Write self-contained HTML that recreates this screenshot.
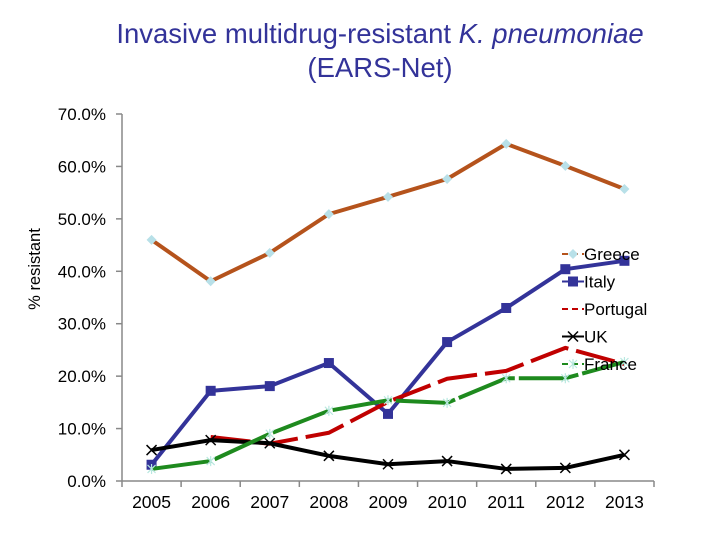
<!DOCTYPE html>
<html><head><meta charset="utf-8"><style>
body{margin:0;background:#fff;font-family:"Liberation Sans",Arial,sans-serif}
svg text{font-family:"Liberation Sans",Arial,sans-serif}
</style></head><body>
<svg id="chart" width="720" height="540" viewBox="0 0 720 540">
<text x="380" y="43" font-size="27.5" text-anchor="middle" fill="#333399">Invasive multidrug-resistant <tspan font-style="italic">K. pneumoniae</tspan></text>
<text x="380" y="77" font-size="27.5" text-anchor="middle" fill="#333399">(EARS-Net)</text>
<text transform="translate(40,269) rotate(-90)" font-size="16.5" text-anchor="middle">% resistant</text>
<g id="axes"></g><g id="series"></g><g id="legend"></g>
</svg>
<script>
const years=['2005','2006','2007','2008','2009','2010','2011','2012','2013'];
const yTicks=[0,10,20,30,40,50,60,70];
const greece=[46.0,38.1,43.5,50.9,54.2,57.6,64.3,60.1,55.7];
const italy=[3.1,17.2,18.1,22.5,12.8,26.5,33.0,40.4,42.0];
const portugal=[null,8.4,7.1,9.2,15.1,19.5,21.0,25.4,22.3];
const uk=[5.9,7.8,7.2,4.8,3.2,3.8,2.3,2.5,5.0];
const france=[2.3,3.8,9.0,13.4,15.4,14.9,19.6,19.6,22.7];
const seriesNames=['Greece','Italy','Portugal','UK','France'];
const NS='http://www.w3.org/2000/svg';
const x0=122,x1=654,y0=481,y1=114;
const step=(x1-x0)/years.length;
function xs(i){return x0+step*(i+0.5);}
function ys(v){return y0-(v/70)*(y0-y1);}
function mk(tag,attrs,parent){const e=document.createElementNS(NS,tag);for(const k in attrs)e.setAttribute(k,attrs[k]);parent.appendChild(e);return e;}
const ax=document.getElementById('axes');
let a=mk('line',{x1:x0,y1:y1,x2:x0,y2:y0,stroke:'#888','stroke-width':1.5},ax);

a=mk('line',{x1:x0,y1:y0,x2:x1,y2:y0,stroke:'#888','stroke-width':1.5},ax);

yTicks.forEach(t=>{const y=ys(t);
 mk('line',{x1:x0-6,y1:y,x2:x0,y2:y,stroke:'#888','stroke-width':1.5},ax);
 const tx=mk('text',{x:x0-16,y:y+6,'font-size':17,'text-anchor':'end'},ax);tx.textContent=t.toFixed(1)+'%';
 });
for(let i=0;i<=years.length;i++){const x=x0+step*i;mk('line',{x1:x,y1:y0,x2:x,y2:y0+6,stroke:'#888','stroke-width':1.5},ax);}
years.forEach((yr,i)=>{const tx=mk('text',{x:xs(i),y:508,'font-size':17.5,'text-anchor':'middle'},ax);tx.textContent=yr;
 });
const sg=document.getElementById('series');
function marker(type,x,y,g,col){
 if(type==='diamond')mk('path',{d:`M${x} ${y-5}L${x+5} ${y}L${x} ${y+5}L${x-5} ${y}Z`,fill:'#b8e0e8'},g);
 else if(type==='square')mk('rect',{x:x-5,y:y-5,width:10,height:10,fill:'#333399'},g);
 else if(type==='x'){mk('path',{d:`M${x-5} ${y-5}L${x+5} ${y+5}M${x-5} ${y+5}L${x+5} ${y-5}`,stroke:'#000','stroke-width':1.5},g);}
 else if(type==='star'){mk('path',{d:`M${x-4} ${y-4}L${x+4} ${y+4}M${x-4} ${y+4}L${x+4} ${y-4}M${x} ${y-5}L${x} ${y+5}`,stroke:'#b8e8e0','stroke-width':1.2},g);}
}
function drawSeries(name,data,color,dash,mtype){
 const g=mk('g',{},sg);
 
 
 let d='';let started=false;
 data.forEach((v,i)=>{if(v===null){started=false;return;}d+=(started?'L':'M')+xs(i)+' '+ys(v);started=true;});
 const p=mk('path',{d:d,fill:'none',stroke:color,'stroke-width':4,'stroke-linejoin':'round'},g);
 if(dash)p.setAttribute('stroke-dasharray',dash);
 data.forEach((v,i)=>{if(v!==null)marker(mtype,xs(i),ys(v),g,color);});
}
drawSeries('Greece',greece,'#B5531C',null,'diamond');
drawSeries('Italy',italy,'#333399',null,'square');
drawSeries('Portugal',portugal,'#C00000','40,8','none');
drawSeries('UK',uk,'#000000',null,'x');
drawSeries('France',france,'#1E8A1E','60,4','star');
const lg=document.getElementById('legend');
const lcol=['#B5531C','#333399','#C00000','#000','#1E8A1E'];
const ltype=['diamond','square','none','x','star'];
seriesNames.forEach((n,i)=>{const y=254+i*27.5;
 const g=mk('g',{},lg);
 
 
 mk('line',{x1:562,y1:y,x2:584,y2:y,stroke:lcol[i],'stroke-width':2,'stroke-dasharray':(i===2||i===4||i===0)?'6,4':'none'},g);
 marker(ltype[i],573,y,g,lcol[i]);
 const t=mk('text',{x:584,y:y+6,'font-size':17},g);t.textContent=n;
});
</script>
</body></html>
